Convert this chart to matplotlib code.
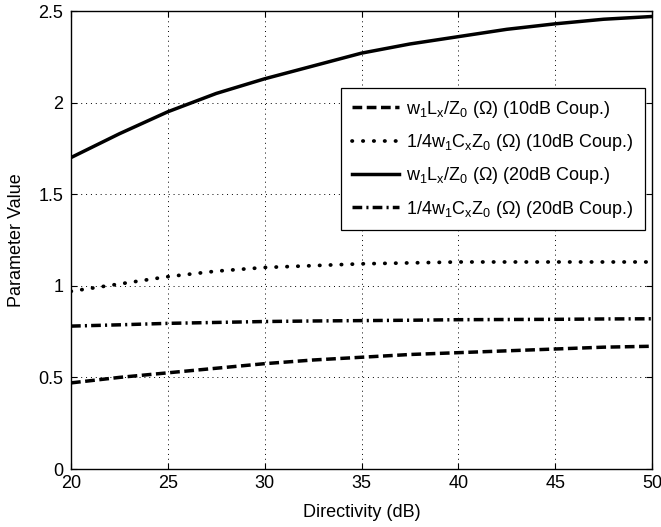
import numpy as np
import matplotlib.pyplot as plt

plt.rcParams['font.family'] = ['Liberation Sans', 'DejaVu Sans']
plt.rcParams['mathtext.default'] = 'regular'

directivity = [20, 22.5, 25, 27.5, 30, 32.5, 35, 37.5, 40, 42.5, 45, 47.5, 50]
lx_10db = [0.47, 0.50, 0.525, 0.55, 0.575, 0.595, 0.61, 0.625, 0.635, 0.645, 0.655, 0.665, 0.67]
cx_10db = [0.97, 1.01, 1.05, 1.08, 1.10, 1.11, 1.12, 1.125, 1.13, 1.13, 1.13, 1.13, 1.13]
lx_20db = [1.70, 1.83, 1.95, 2.05, 2.13, 2.20, 2.27, 2.32, 2.36, 2.40, 2.43, 2.455, 2.47]
cx_20db = [0.78, 0.787, 0.795, 0.80, 0.805, 0.808, 0.81, 0.812, 0.815, 0.816, 0.817, 0.819, 0.82]

labels = [r'w$_1$L$_x$/Z$_0$ ($\Omega$) (10dB Coup.)',
          r'1/4w$_1$C$_x$Z$_0$ ($\Omega$) (10dB Coup.)',
          r'w$_1$L$_x$/Z$_0$ ($\Omega$) (20dB Coup.)',
          r'1/4w$_1$C$_x$Z$_0$ ($\Omega$) (20dB Coup.)']

fig = plt.figure(figsize=(6.61, 5.27), dpi=100)
ax = fig.add_axes([71/661, 58/527, 581/661, 458/527])

ax.plot(directivity, lx_10db, color='k', lw=2.5, ls=(0, (2.8, 1.3)), label=labels[0])
ax.plot(directivity, cx_10db, color='k', lw=2.7, ls=(0, (0.1, 2.8)),
        dash_capstyle='round', label=labels[1])
ax.plot(directivity, lx_20db, color='k', lw=2.5, label=labels[2])
ax.plot(directivity, cx_20db, color='k', lw=2.5, ls=(0, (2.8, 1.2, 0.6, 1.2)), label=labels[3])

ax.set_xlim(20, 50)
ax.set_ylim(0, 2.5)
ax.set_xticks([20, 25, 30, 35, 40, 45, 50])
ax.set_yticks([0, 0.5, 1, 1.5, 2, 2.5])
ax.set_yticklabels(['0', '0.5', '1', '1.5', '2', '2.5'])
ax.grid(True, color='k', ls=(0, (1, 4)), lw=0.7)
ax.tick_params(direction='in', top=True, right=True, labelsize=13, length=4, width=0.8)
ax.tick_params(axis='x', pad=4.5)
ax.tick_params(axis='y', pad=5.5)
for s in ax.spines.values():
    s.set_linewidth(1.0)
ax.set_xlabel('Directivity (dB)', fontsize=13, va='top')
ax.set_ylabel('Parameter Value', fontsize=13)
ax.xaxis.set_label_coords(0.5, -0.077)
ax.yaxis.set_label_coords(-0.079, 0.5)

leg = ax.legend(loc='upper right', bbox_to_anchor=(0.988, 0.832), fontsize=13,
                fancybox=False, edgecolor='k', framealpha=1, handlelength=2.6,
                handletextpad=0.4, borderaxespad=0, labelspacing=0.68, borderpad=0.6)
leg.get_frame().set_linewidth(0.9)

fig.savefig('out.png', dpi=100)
